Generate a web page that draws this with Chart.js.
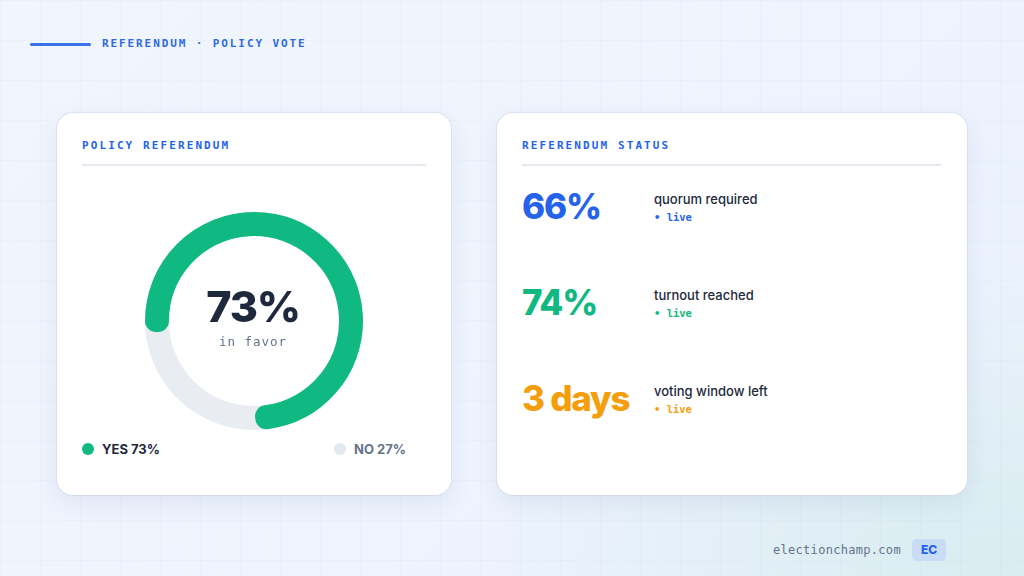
<!DOCTYPE html>
<html>
<head>
<meta charset="utf-8">
<script src="https://cdn.jsdelivr.net/npm/chart.js@4.4.1/dist/chart.umd.min.js"></script>
<style>
  html, body { margin: 0; padding: 0; }
  body {
    width: 1024px; height: 576px; overflow: hidden; position: relative;
    font-family: Inter, "Noto Sans", sans-serif;
    background:
      linear-gradient(rgba(37,99,235,0.025) 1px, transparent 1px) 0 0 / 40px 40px,
      linear-gradient(90deg, rgba(37,99,235,0.025) 1px, transparent 1px) 0 0 / 40px 40px,
      radial-gradient(ellipse 520px 300px at 1000px 560px, #d9edf1 0%, rgba(217,237,241,0) 100%),
      linear-gradient(135deg, #f1f5fd 0%, #eef3fd 60%, #e9f1fa 100%);
  }
  .mono { font-family: "DejaVu Sans Mono", "Liberation Mono", monospace; }
  .hdr-line { position: absolute; left: 30px; top: 43px; width: 61px; height: 3px; background: #3b72e6; border-radius: 2px; }
  .hdr { position: absolute; left: 102px; top: 37px; font-size: 11px; font-weight: bold; letter-spacing: 1.9px; color: #2f6ae0; }
  .card { position: absolute; top: 113px; height: 382px; background: #fff; border-radius: 16px;
    box-shadow: 0 8px 24px rgba(60,80,140,0.09), 0 0 0 1px rgba(222,230,242,0.9); }
  .title { position: absolute; left: 25px; top: 26px; font-size: 11px; font-weight: bold; letter-spacing: 2.1px; color: #2563eb; }
  .rule { position: absolute; left: 25px; top: 51px; height: 2px; background: #e6eaf0; }
  #chartBox { position: absolute; left: 88px; top: 99px; width: 218px; height: 218px; }
  .center { position: absolute; left: 87px; width: 218px; text-align: center; }
  .big { top: 167px; font-size: 43px; font-weight: 800; color: #1e293b; letter-spacing: -1.2px; }
  .sub { top: 221px; font-size: 12.5px; color: #64748b; letter-spacing: 1px; }
  .leg { position: absolute; top: 328px; font-size: 13px; font-weight: 700; display: flex; align-items: center; }
  .dot { width: 12px; height: 12px; border-radius: 50%; margin-right: 8px; }
  .stat { position: absolute; left: 25px; font-size: 35px; font-weight: 800; letter-spacing: -1.2px; line-height: 1; }
  .lab { position: absolute; left: 157px; font-size: 13px; font-weight: 500; color: #1e293b; }
  .live { position: absolute; left: 157px; font-size: 10.5px; font-weight: bold; }
  .foot { position: absolute; left: 773px; top: 543px; font-size: 12px; color: #64748b; letter-spacing: 0.3px; }
  .badge { position: absolute; left: 912px; top: 539px; width: 34px; height: 22px; border-radius: 5px; background: #c9dcf6;
    color: #2563eb; font-size: 12px; font-weight: 800; text-align: center; line-height: 22px; }
</style>
</head>
<body>
<script>
// referendum result
const voteLabels = ['YES', 'NO'];
const voteValues = [73, 27];
const voteColors = ['#10b981', '#e9edf2'];
const voteDots = ['#10b981', '#e2e8f0'];
const centerLabel = 'in favor';

// status panel
const statValues = ['66%', '74%', '3 days'];
const statLabels = ['quorum required', 'turnout reached', 'voting window left'];
const statColors = ['#2563eb', '#10b981', '#f59e0b'];
</script>

<div class="hdr-line"></div>
<div class="hdr mono">REFERENDUM · POLICY VOTE</div>

<div class="card" id="left" style="left:57px; width:394px;">
  <div class="title mono">POLICY REFERENDUM</div>
  <div class="rule" style="width:344px;"></div>
  <div id="chartBox"><canvas id="chart"></canvas></div>
  <div class="center big" id="bigPct"></div>
  <div class="center sub mono" id="subTxt"></div>
</div>

<div class="card" id="right" style="left:497px; width:470px;">
  <div class="title mono">REFERENDUM STATUS</div>
  <div class="rule" style="width:419px;"></div>
</div>

<div class="foot mono">electionchamp.com</div>
<div class="badge">EC</div>

<script>
var left = document.getElementById('left');
document.getElementById('bigPct').textContent = voteValues[0] + '%';
document.getElementById('subTxt').textContent = centerLabel;

// legend
var legPos = [{ left: 25, color: '#1e293b' }, { left: 277, color: '#64748b' }];
voteLabels.forEach(function (l, i) {
    var d = document.createElement('div');
    d.className = 'leg';
    d.style.left = legPos[i].left + 'px';
    d.style.color = legPos[i].color;
    d.innerHTML = '<span class="dot" style="background:' + voteDots[i] + '"></span>' + l + ' ' + voteValues[i] + '%';
    left.appendChild(d);
});

// status rows
var right = document.getElementById('right');
statValues.forEach(function (v, i) {
    var y = 96 * i;
    var s = document.createElement('div');
    s.className = 'stat';
    s.style.top = (76 + y) + 'px';
    s.style.color = statColors[i];
    s.textContent = v;
    right.appendChild(s);
    var lb = document.createElement('div');
    lb.className = 'lab';
    lb.style.top = (78 + y) + 'px';
    lb.textContent = statLabels[i];
    right.appendChild(lb);
    var lv = document.createElement('div');
    lv.className = 'live mono';
    lv.style.top = (98 + y) + 'px';
    lv.style.color = statColors[i];
    lv.textContent = '\u2022 live';
    right.appendChild(lv);
});

// ring is thin; the thick round-joined border gives it round caps
var RING_BORDER = 22;

// gray track behind the arcs
var trackPlugin = {
    id: 'track',
    beforeDatasetsDraw: function (chart) {
        var arc = chart.getDatasetMeta(0).data[0];
        if (!arc) return;
        var ctx = chart.ctx;
        var r = (arc.outerRadius + arc.innerRadius) / 2;
        ctx.save();
        ctx.beginPath();
        ctx.arc(arc.x, arc.y, r, 0, Math.PI * 2);
        ctx.lineWidth = arc.outerRadius - arc.innerRadius + RING_BORDER;
        ctx.strokeStyle = voteColors[1];
        ctx.stroke();
        ctx.restore();
    }
};

new Chart(document.getElementById('chart'), {
    type: 'doughnut',
    data: {
        labels: voteLabels,
        datasets: [{
            data: voteValues,
            backgroundColor: [voteColors[0], 'rgba(0,0,0,0)'],
            borderColor: [voteColors[0], 'rgba(0,0,0,0)'],
            borderWidth: [RING_BORDER, 0],
            borderJoinStyle: 'round',
            borderAlign: 'center',
            hoverOffset: 0
        }]
    },
    options: {
        responsive: true,
        maintainAspectRatio: false,
        animation: false,
        cutout: '98%',
        rotation: 270,
        layout: { padding: 0 },
        plugins: {
            legend: { display: false },
            tooltip: { enabled: false }
        }
    },
    plugins: [trackPlugin]
});
</script>
</body>
</html>
